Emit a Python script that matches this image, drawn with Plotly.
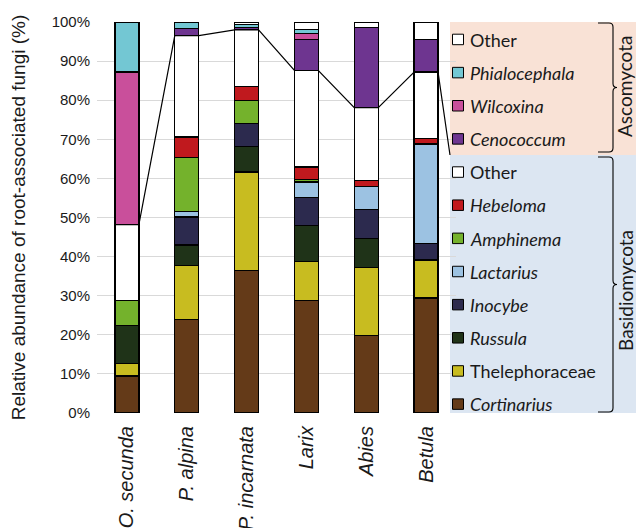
import plotly.graph_objects as go

# Host plants (x categories)
hosts = ["O. secunda", "P. alpina", "P. incarnata", "Larix", "Abies", "Betula"]

# Relative abundance (%) of each fungal group per host, stacked bottom -> top
cortinarius    = [9.5, 24.0, 36.4, 28.7, 19.9, 29.4]
thelephoraceae = [3.1, 13.8, 25.2, 10.1, 17.4, 9.7]
russula        = [9.8, 5.2, 6.5, 9.1, 7.4, 0.0]
inocybe        = [0.0, 7.1, 5.9, 7.3, 7.4, 4.3]
lactarius      = [0.0, 1.5, 0.0, 3.9, 5.8, 25.4]
amphinema      = [6.4, 13.7, 5.9, 0.7, 0.0, 0.0]
hebeloma       = [0.0, 5.3, 3.6, 3.1, 1.5, 1.4]
other_basidio  = [19.4, 25.9, 14.5, 24.7, 18.7, 17.0]
cenococcum     = [0.0, 1.9, 0.6, 7.9, 20.5, 8.3]
wilcoxina      = [39.0, 0.0, 0.0, 1.5, 0.0, 0.0]
phialocephala  = [12.8, 1.6, 0.7, 1.0, 0.0, 0.0]
other_asco     = [0.0, 0.0, 0.7, 2.0, 1.4, 4.5]

# y-axis ticks
y_ticks = list(range(0, 101, 10))
y_tick_labels = [f"{v}%" for v in y_ticks]

basidio = [
    ("Cortinarius", cortinarius, "#643A18", True),
    ("Thelephoraceae", thelephoraceae, "#C8BC20", False),
    ("Russula", russula, "#1F3318", True),
    ("Inocybe", inocybe, "#2C2A4E", True),
    ("Lactarius", lactarius, "#9CC2E2", True),
    ("Amphinema", amphinema, "#74B22C", True),
    ("Hebeloma", hebeloma, "#C0191E", True),
    ("Other", other_basidio, "#FFFFFF", False),
]
asco = [
    ("Cenococcum", cenococcum, "#6E3590", True),
    ("Wilcoxina", wilcoxina, "#C94F9B", True),
    ("Phialocephala", phialocephala, "#73C7D3", True),
    ("Other", other_asco, "#FFFFFF", False),
]

W, H = 636, 528
L, R, T, B = 97, 456, 22, 413          # plot area in pixels
BAR_W = 0.4
AXIS_FONT = "Liberation Sans, Arial, sans-serif"
LEG_FONT = "Lato, Carlito, sans-serif"
TXT = "#1a1a1a"


def px(x):
    return (x - L) / (R - L)


def py(y):
    return (B - y) / (B - T)


fig = go.Figure()
xs = list(range(len(hosts)))
for name, vals, color, _ in basidio + asco:
    fig.add_trace(go.Bar(
        x=xs, y=[v if v > 0 else None for v in vals], name=name, width=BAR_W,
        marker=dict(color=color, line=dict(color="#000000", width=1.3)),
        showlegend=False,
    ))

# Line joining the Basidiomycota/Ascomycota boundary of each bar,
# ending at the divider between the two legend panels
divider_px = 155
basidio_top = [sum(g[1][i] for g in basidio) for i in range(len(hosts))]
lx, ly = [], []
for i, top in enumerate(basidio_top):
    lx += [i - BAR_W / 2, i + BAR_W / 2]
    ly += [top, top]
lx.append(-0.5 + (450 - L) / (R - L) * len(hosts))
ly.append(py(divider_px) * 100)
fig.add_trace(go.Scatter(x=lx, y=ly, mode="lines", showlegend=False,
                         line=dict(color="#000000", width=1.2), hoverinfo="skip"))

shapes, annots = [], []
# legend panels
shapes.append(dict(type="rect", xref="paper", yref="paper", layer="below",
                   x0=px(450), x1=px(W), y0=py(T), y1=py(divider_px),
                   fillcolor="#F9E2D6", line=dict(width=0)))
shapes.append(dict(type="rect", xref="paper", yref="paper", layer="below",
                   x0=px(450), x1=px(W), y0=py(divider_px), y1=py(B),
                   fillcolor="#DCE6F2", line=dict(width=0)))

legend_rows = list(reversed(asco)) + list(reversed(basidio))
y0, step = 39.2, 33.15
for k, (name, _, color, italic) in enumerate(legend_rows):
    yc = y0 + k * step
    shapes.append(dict(type="rect", xref="paper", yref="paper",
                       x0=px(452.5), x1=px(463.5), y0=py(yc - 5), y1=py(yc + 5.5),
                       fillcolor=color, line=dict(color="#000000", width=1)))
    annots.append(dict(xref="paper", yref="paper", x=px(468), y=py(yc + 0.5),
                       xanchor="left", yanchor="middle", showarrow=False,
                       text=f"<i>{name}</i>" if italic else name,
                       font=dict(family=LEG_FONT, size=18, color=TXT)))


def brace(ytop, ybot, xl=598, xr=613):
    mid = (ytop + ybot) / 2
    pts = [
        f"M{px(xl)},{py(ytop)}",
        f"L{px(xr - 4)},{py(ytop)}",
        f"Q{px(xr)},{py(ytop)} {px(xr)},{py(ytop + 4)}",
        f"L{px(xr)},{py(mid - 4)}",
        f"Q{px(xr)},{py(mid)} {px(xr + 4)},{py(mid)}",
        f"Q{px(xr)},{py(mid)} {px(xr)},{py(mid + 4)}",
        f"L{px(xr)},{py(ybot - 4)}",
        f"Q{px(xr)},{py(ybot)} {px(xr - 4)},{py(ybot)}",
        f"L{px(xl)},{py(ybot)}",
    ]
    return dict(type="path", xref="paper", yref="paper", path=" ".join(pts),
                line=dict(color="#000000", width=1.1))


shapes.append(brace(23, 152))
shapes.append(brace(157, 412))
annots.append(dict(xref="paper", yref="paper", x=px(625), y=py(87), text="Ascomycota",
                   textangle=-90, showarrow=False, xanchor="center", yanchor="middle",
                   font=dict(family=LEG_FONT, size=19, color=TXT)))
annots.append(dict(xref="paper", yref="paper", x=px(625), y=py(291), text="Basidiomycota",
                   textangle=-90, showarrow=False, xanchor="center", yanchor="middle",
                   font=dict(family=LEG_FONT, size=19, color=TXT)))

fig.update_layout(
    width=W, height=H, barmode="stack",
    margin=dict(l=L, r=W - R, t=T, b=H - B, pad=0, autoexpand=False),
    paper_bgcolor="#FFFFFF", plot_bgcolor="#FFFFFF",
    shapes=shapes, annotations=annots,
    xaxis=dict(range=[-0.5, len(hosts) - 0.5], tickvals=xs, automargin=False,
               ticktext=[f"<i>{h}</i>" for h in hosts], tickangle=-90,
               showgrid=False, zeroline=False, showline=False, ticks="",
               ticklabelstandoff=8,
               tickfont=dict(family=AXIS_FONT, size=20, color=TXT)),
    yaxis=dict(range=[0, 100], tickvals=y_ticks, ticktext=y_tick_labels,
               automargin=False,
               showgrid=True, gridcolor="#D9D9D9", gridwidth=1.3, zeroline=False,
               showline=False, ticks="", ticklabelstandoff=6,
               tickfont=dict(family=AXIS_FONT, size=15, color=TXT),
               title=dict(text="Relative abundance of root-associated fungi (%)",
                          font=dict(family=AXIS_FONT, size=19, color=TXT), standoff=20)),
)

fig.write_html("out.html")
